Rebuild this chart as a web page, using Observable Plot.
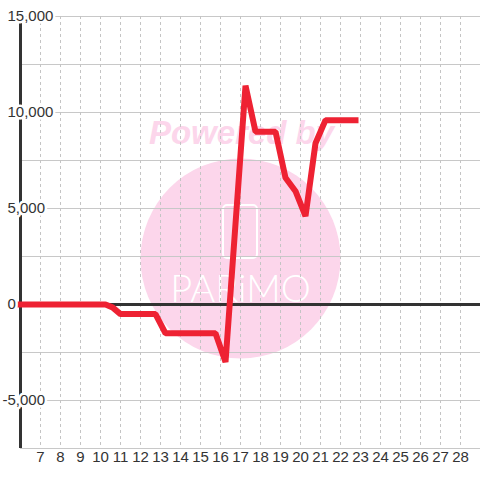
<!DOCTYPE html>
<html>
<head>
<meta charset="utf-8">
<script src="https://cdn.jsdelivr.net/npm/d3@7"></script>
<script src="https://cdn.jsdelivr.net/npm/@observablehq/plot@0.6"></script>
<style>
  html, body { margin: 0; padding: 0; background: #ffffff; }
  #chart { width: 480px; height: 480px; }
</style>
</head>
<body>
<div id="chart"></div>
<script>
// Series (x = day, y = value)
const days   = [6, 10.25, 10.6, 11, 12.75, 13.25, 15.75, 16.25, 17.25, 17.75, 18.75, 19.25, 19.75, 20.25, 20.75, 21.25, 22.75];
const values = [0, 0, -150, -500, -500, -1500, -1500, -3000, 11400, 9000, 9000, 6600, 5900, 4600, 8400, 9600, 9600];

// Axis ticks
const xTicks = [7, 8, 9, 10, 11, 12, 13, 14, 15, 16, 17, 18, 19, 20, 21, 22, 23, 24, 25, 26, 27, 28];
const yGrid = [-7500, -5000, -2500, 0, 2500, 5000, 7500, 10000, 12500, 15000];
const yLabels = [15000, 10000, 5000, 0, -5000];

// Watermark
const wmCircle = [{x: 17, y: 2396}];
const wmTitle = [{x: 17.05, y: 8900, text: "Powered by"}];
const wmPhone = [{x1: 16.15, x2: 17.85, y1: 2396, y2: 5156}];
const wmName = [{x: 17, y: 780, text: "PARiMO"}];

const data = days.map((d, i) => ({day: d, value: values[i]}));
const fmt = d => d.toLocaleString("en-US");

const chart = Plot.plot({
  width: 480,
  height: 480,
  marginLeft: 20,
  marginRight: 0,
  marginTop: 16,
  marginBottom: 32,
  style: {fontFamily: "'Liberation Sans', Arial, sans-serif", fontSize: "15px", background: "#ffffff", color: "#333"},
  x: {domain: [6, 29], axis: null},
  y: {domain: [-7500, 15000], axis: null},
  marks: [
    // watermark
    Plot.dot(wmCircle, {x: "x", y: "y", r: 100, fill: "#fcd6eb", stroke: null}),
    Plot.text(wmTitle, {x: "x", y: "y", text: "text", fontSize: 33, fontWeight: "bold", fontStyle: "italic", fill: "#fcd6eb", fontFamily: "'Liberation Sans', Arial, sans-serif"}),
    Plot.rect(wmPhone, {x1: "x1", x2: "x2", y1: "y1", y2: "y2", fill: "none", stroke: "white", strokeWidth: 2, rx: 4}),
    Plot.text(wmName, {x: "x", y: "y", text: "text", fontSize: 38, fontWeight: 300, fill: "white", fontFamily: "Lato, sans-serif"}),
    // grid
    Plot.ruleY(yGrid, {stroke: "#c8c8c8", strokeWidth: 1}),
    Plot.ruleX(xTicks, {stroke: "#c4c4c4", strokeWidth: 1, strokeDasharray: "3,3"}),
    // axes
    Plot.ruleX([6], {y1: -7500, y2: 15000, stroke: "#333", strokeWidth: 3}),
    Plot.ruleY([0], {stroke: "#333", strokeWidth: 3}),
    // series
    Plot.line(data, {x: "day", y: "value", stroke: "#ee2233", strokeWidth: 6, strokeLinejoin: "miter", strokeLinecap: "square"}),
    // y labels
    Plot.text(yLabels.filter(d => d >= 0), {y: d => d, text: fmt, frameAnchor: "left", textAnchor: "start", dx: -13, fill: "#333", stroke: "white", strokeWidth: 5}),
    Plot.text(yLabels.filter(d => d < 0), {y: d => d, text: fmt, frameAnchor: "left", textAnchor: "start", dx: -18, fill: "#333", stroke: "white", strokeWidth: 5}),
    // x labels
    Plot.text(xTicks, {x: d => d, text: d => String(d), frameAnchor: "bottom", dy: 13, fill: "#333"})
  ]
});
document.getElementById("chart").appendChild(chart);
</script>
</body>
</html>
